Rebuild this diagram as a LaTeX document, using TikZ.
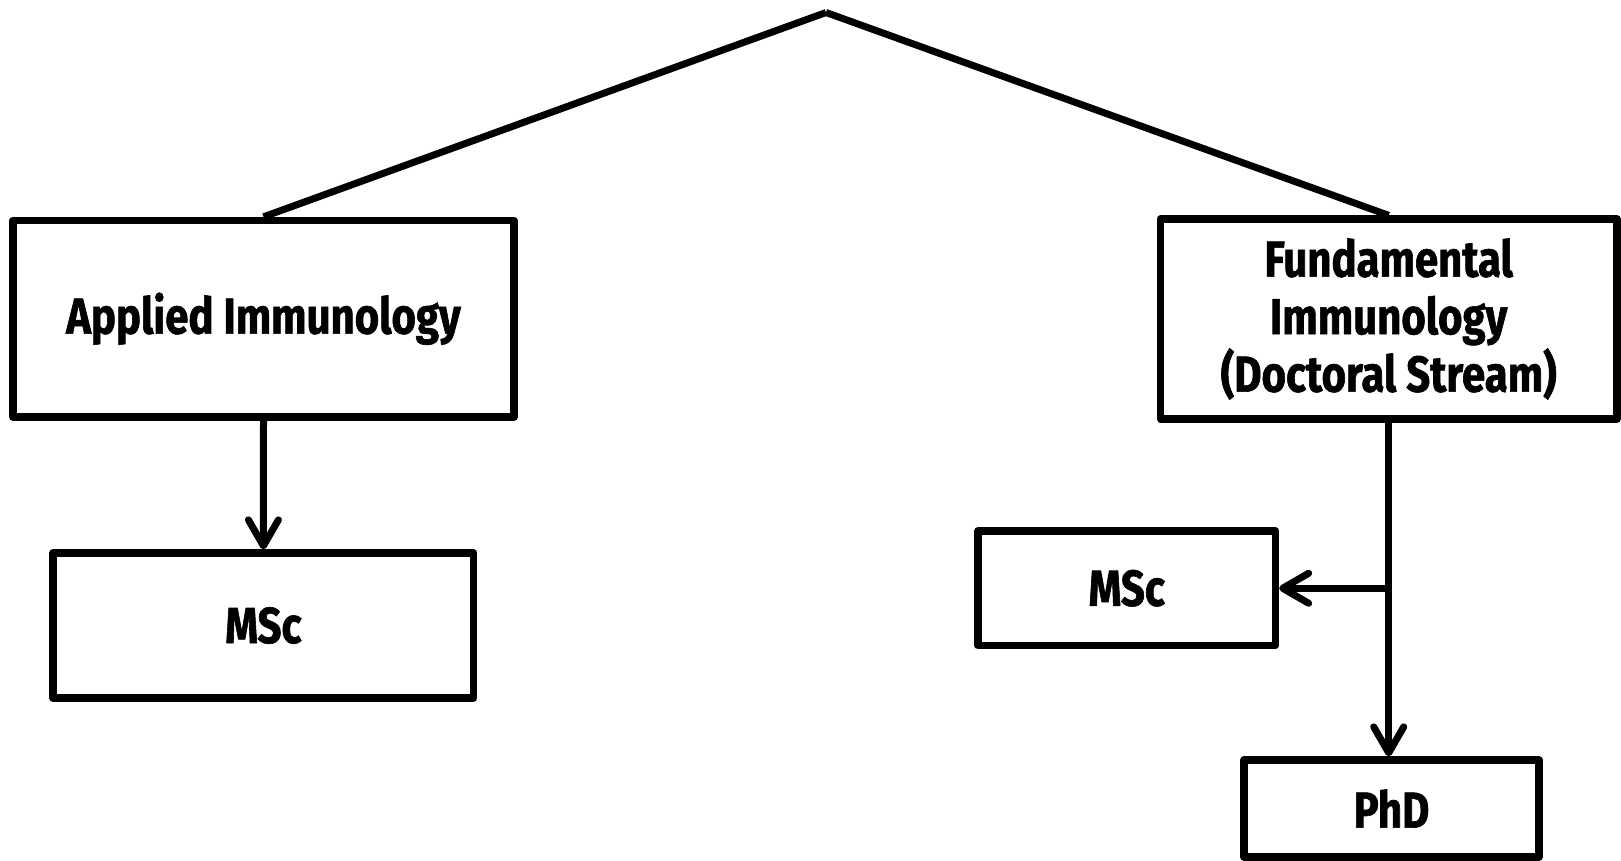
\documentclass[tikz,border=0pt]{standalone}
\usepackage{fontspec}
\setmainfont{Fira Sans}[FakeStretch=0.83, FakeBold=1.2]
\usetikzlibrary{arrows.meta}
\tikzset{
  box/.style={draw=black, line width=7.3pt, line join=round, rectangle, inner sep=0pt, align=center,
    font=\fontsize{50.5}{57.5}\selectfont\bfseries},
  link/.style={draw=black, line width=7pt},
  arr/.style={draw=black, line width=7pt, -{Straight Barb[length=26pt, width=30pt, line cap=round, line join=round]}}
}
\begin{document}
\begin{tikzpicture}[x=1pt, y=-1pt]
\useasboundingbox (0,0) rectangle (1621,860);
\node[box, minimum width=501pt, minimum height=196.5pt] (applied) at (263.5,318.75) {Applied Immunology};
\node[box, minimum width=420.7pt, minimum height=145pt] (msc1) at (263.4,625.5) {MSc};
\node[box, minimum width=456.7pt, minimum height=200pt] (fund) at (1388.7,319) {Fundamental\\Immunology\\(Doctoral Stream)};
\node[box, minimum width=297.5pt, minimum height=114.5pt] (msc2) at (1126.75,588.25) {MSc};
\node[box, minimum width=295pt, minimum height=97pt] (phd) at (1391.5,808.5) {PhD};
\coordinate (apex) at (826,12.5);
\draw[link] (apex) -- (applied.north);
\draw[link] (apex) -- (fund.north);
\draw[arr] (applied.south) -- (msc1.north);
\draw[arr] (fund.south) -- (fund.south |- phd.north);
\coordinate (br) at (fund.south |- msc2.east);
\draw[arr] (br) -- (msc2.east);
\end{tikzpicture}
\end{document}
